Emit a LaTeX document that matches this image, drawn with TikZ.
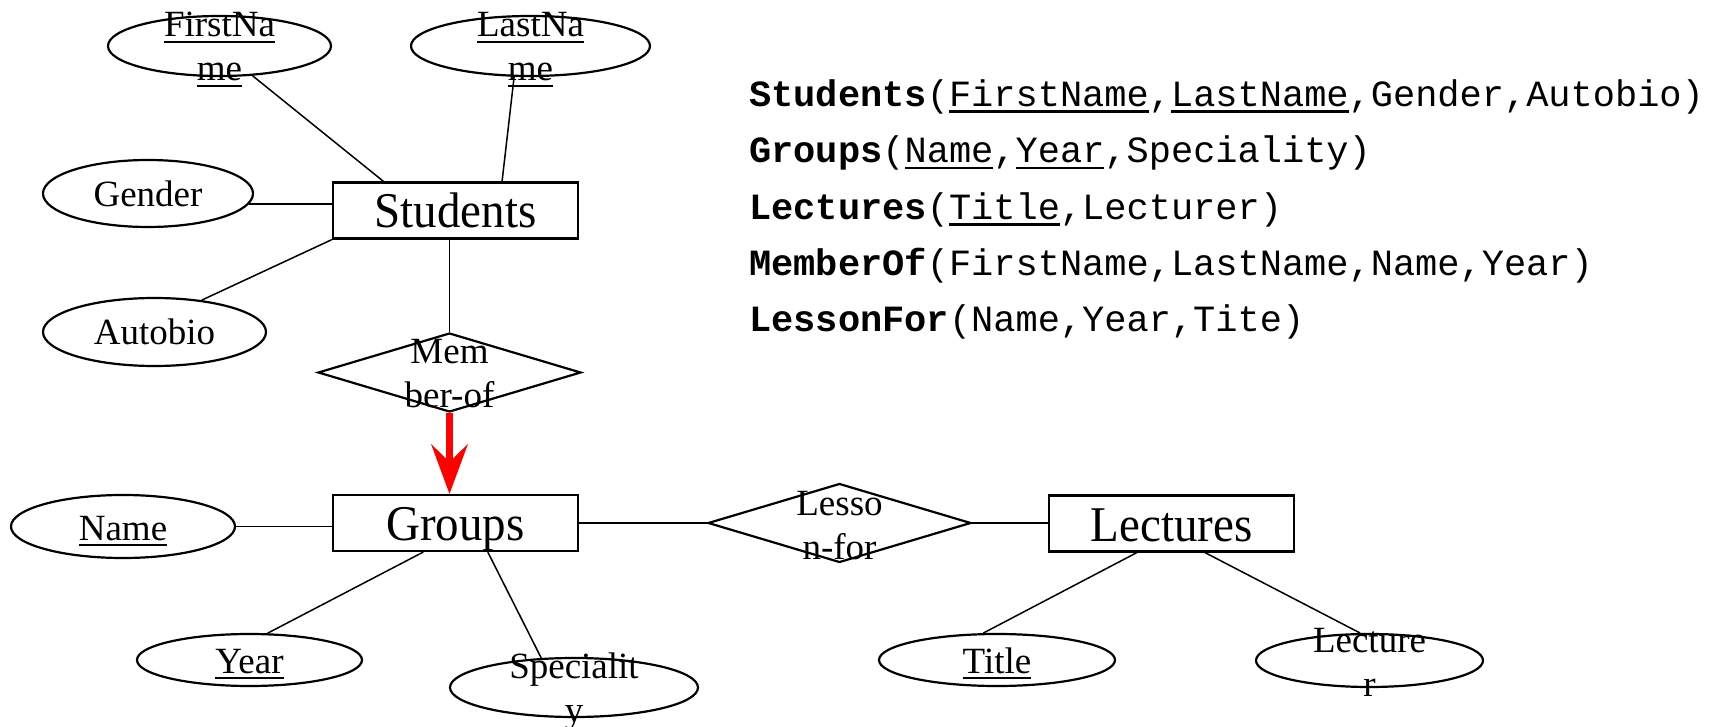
\documentclass[tikz,border=0pt]{standalone}
\usepackage{fontspec}
\setmainfont{Liberation Serif}
\setmonofont{Liberation Mono}
\newfontfamily\entityfont[FakeStretch=0.94]{Liberation Serif}
\usetikzlibrary{shapes.geometric,arrows.meta}

% underline for key attributes
\newcommand\keyul[1]{{\leavevmode\setbox0\hbox{#1}\rlap{\vrule height -0.1em depth 0.17em width \wd0}\box0}}
% a label broken over two lines, baseline on the first line
\newcommand\twolines[2]{\begin{tabular}[t]{@{}c@{}}#1\\#2\end{tabular}}

\begin{document}
\begin{tikzpicture}[x=1pt,y=-1pt,
  entity/.style={draw,line width=2.2pt,minimum width=245pt,minimum height=56pt,
    inner sep=0pt,text height=35pt,text depth=0pt,font=\entityfont\fontsize{50}{56}\selectfont},
  attr/.style={ellipse,draw,line width=2.2pt,inner sep=0pt},
  rel/.style={diamond,draw,line width=2.2pt,inner sep=0pt,
    minimum width=263pt,minimum height=79pt},
  lbl/.style={inner sep=0pt,anchor=base,font=\fontsize{37}{44}\selectfont},
  link/.style={line width=1.5pt},
  isa/.style={draw=red,line width=6.5pt,
    -{Stealth[length=50pt,width=37pt,inset=18pt,line width=0pt]}},
  schema/.style={inner sep=0pt,anchor=base west,font=\fontsize{37}{44}\selectfont\ttfamily}
]
\useasboundingbox (0,0) rectangle (1717,727);

% entities
\node[entity] (st) at (455.5,210.5) {Students};
\node[entity] (gr) at (455.5,523) {Groups};
\node[entity] (le) at (1171.5,523.5) {Lectures};

% relationships
\node[rel] (mo) at (449.5,372.5) {};
\node[rel] (lf) at (839.5,523) {};

% attributes
\node[attr,minimum width=223pt,minimum height=60pt] (fn) at (219.5,46) {};
\node[attr,minimum width=239pt,minimum height=60pt] (ln) at (530.5,46) {};
\node[attr,minimum width=210pt,minimum height=67pt] (ge) at (148,193.5) {};
\node[attr,minimum width=223pt,minimum height=68pt] (au) at (154.5,332) {};
\node[attr,minimum width=224pt,minimum height=63pt] (nm) at (123,526.5) {};
\node[attr,minimum width=225pt,minimum height=52pt] (yr) at (249.5,660) {};
\node[attr,minimum width=248pt,minimum height=59pt] (sp) at (574,687.5) {};
\node[attr,minimum width=236pt,minimum height=52pt] (ti) at (997,660) {};
\node[attr,minimum width=227pt,minimum height=53pt] (lc) at (1369.5,660.5) {};

% labels of attributes and relationships
\node[lbl] (fnt) at (219.5,37) {\twolines{\keyul{FirstNa}}{\keyul{me}}};
\node[lbl] (lnt) at (530.5,37) {\twolines{\keyul{LastNa}}{\keyul{me}}};
\node[lbl] (get) at (148,207) {Gender};
\node[lbl] (aut) at (154.5,345) {Autobio};
\node[lbl] (nmt) at (123,540) {\keyul{Name}};
\node[lbl] (yrt) at (249.5,673) {\keyul{Year}};
\node[lbl] (spt) at (574,678) {\twolines{Specialit}{y}};
\node[lbl] (tit) at (997,673) {\keyul{Title}};
\node[lbl] (lct) at (1369.5,652) {\twolines{Lecture}{r}};
\node[lbl] (mot) at (449.5,363) {\twolines{Mem}{ber-of}};
\node[lbl] (lft) at (839.5,515) {\twolines{Lesso}{n-for}};

% connectors
\draw[link] (fn.-42) -- (st.158.5);
\draw[link] (ln.-118) -- (st.32);
\draw[link] (ge.-6) -- (ge.-6 -| st.west);
\draw[link] (au.34) -- (st.south west);
\draw[link] (st.south -| mo.north) -- (mo.north);
\draw[link] (nm.east) -- (nm.east -| gr.west);
\draw[link] (yr.56) -- (gr.222);
\draw[link] (sp.138) -- (gr.-42.7);
\draw[link] (gr.east |- lf.west) -- (lf.west);
\draw[link] (lf.east) -- (lf.east -| le.west);
\draw[link] (ti.117) -- (le.220.5);
\draw[link] (lc.109) -- (le.-41.4);
\draw[isa] (mo.south) -- (mo.south |- gr.north);

% relational schema
\node[schema] (r1) at (749,106.7) {\textbf{Students}(\keyul{FirstName},\keyul{LastName},Gender,Autobio)};
\node[schema] (r2) at (749,163) {\textbf{Groups}(\keyul{Name},\keyul{Year},Speciality)};
\node[schema] (r3) at (749,219.3) {\textbf{Lectures}(\keyul{Title},Lecturer)};
\node[schema] (r4) at (749,275.6) {\textbf{MemberOf}(FirstName,LastName,Name,Year)};
\node[schema] (r5) at (749,331.9) {\textbf{LessonFor}(Name,Year,Tite)};
\end{tikzpicture}
\end{document}
